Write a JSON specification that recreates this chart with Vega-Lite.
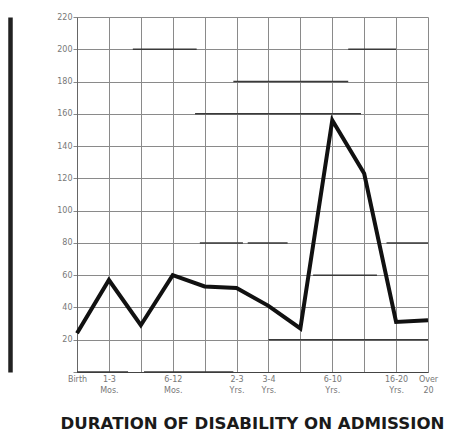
{
  "$schema": "https://vega.github.io/schema/vega-lite/v6.json",
  "width": 351,
  "height": 355,
  "autosize": {"type": "none"},
  "padding": {"left": 77, "top": 17, "right": 24, "bottom": 70},
  "background": "white",
  "title": {
    "text": "DURATION  OF  DISABILITY  ON  ADMISSION",
    "orient": "bottom",
    "anchor": "middle",
    "offset": 22,
    "font": "DejaVu Sans",
    "fontSize": 16.6,
    "fontWeight": "bold",
    "color": "#1a1a1a"
  },
  "config": {
    "view": {"stroke": null},
    "axis": {
      "labelFont": "DejaVu Sans",
      "labelColor": "#777",
      "labelFontSize": 8,
      "gridColor": "#8a8a8a",
      "gridWidth": 1,
      "gridOpacity": 1,
      "domainColor": "#555",
      "tickColor": "#888"
    }
  },
  "datasets": {
    "admissions": [
      {"i": 0, "duration": "Birth", "patients": 24},
      {"i": 1, "duration": "1-3 Mos.", "patients": 57},
      {"i": 2, "duration": "3-6 Mos.", "patients": 29},
      {"i": 3, "duration": "6-12 Mos.", "patients": 60},
      {"i": 4, "duration": "1-2 Yrs.", "patients": 53},
      {"i": 5, "duration": "2-3 Yrs.", "patients": 52},
      {"i": 6, "duration": "3-4 Yrs.", "patients": 41},
      {"i": 7, "duration": "4-6 Yrs.", "patients": 27},
      {"i": 8, "duration": "6-10 Yrs.", "patients": 156},
      {"i": 9, "duration": "10-16 Yrs.", "patients": 123},
      {"i": 10, "duration": "16-20 Yrs.", "patients": 31},
      {"i": 11, "duration": "Over 20", "patients": 32}
    ],
    "paperMarks": [
      {"y": 200, "a": 1.75, "b": 3.75},
      {"y": 200, "a": 8.5, "b": 10},
      {"y": 180, "a": 4.9, "b": 8.5},
      {"y": 160, "a": 3.7, "b": 8.9},
      {"y": 80, "a": 3.85, "b": 5.2},
      {"y": 80, "a": 5.35, "b": 6.6},
      {"y": 80, "a": 9.7, "b": 11},
      {"y": 60, "a": 7.4, "b": 9.4},
      {"y": 20, "a": 6, "b": 11},
      {"y": 0, "a": 0, "b": 1.6},
      {"y": 0, "a": 2.1, "b": 4.9}
    ]
  },
  "layer": [
    {
      "data": {"name": "paperMarks"},
      "mark": {"type": "rule", "color": "#3a3a3a", "strokeWidth": 1.5},
      "encoding": {
        "x": {
          "field": "a", "type": "quantitative",
          "scale": {"domain": [0, 11], "nice": false, "zero": false},
          "axis": {
            "values": [0, 1, 2, 3, 4, 5, 6, 7, 8, 9, 10, 11],
            "title": null,
            "ticks": false,
            "labelPadding": 3,
            "labelLineHeight": 11,
            "labelOverlap": false,
            "labelFlush": false,
            "labelBound": false,
            "labelExpr": "split(['Birth','1-3 Mos.','','6-12 Mos.','','2-3 Yrs.','3-4 Yrs.','','6-10 Yrs.','','16-20 Yrs.','Over 20'][datum.value], ' ')",
            "grid": true,
            "domainColor": "#444"
          }
        },
        "x2": {"field": "b"},
        "y": {
          "field": "y", "type": "quantitative",
          "scale": {"domain": [0, 220], "nice": false},
          "axis": {"orient": "left", "offset": 67, "labels": false, "ticks": false, "grid": false, "title": null, "domainWidth": 4.5, "domainColor": "#222"}
        }
      }
    },
    {
      "data": {"name": "admissions"},
      "mark": {"type": "line", "color": "#111", "strokeWidth": 4, "strokeJoin": "miter", "strokeMiterLimit": 6},
      "encoding": {
        "x": {
          "field": "i", "type": "quantitative",
          "scale": {"domain": [0, 11], "nice": false, "zero": false},
          "axis": {
            "values": [0, 1, 2, 3, 4, 5, 6, 7, 8, 9, 10, 11],
            "title": null,
            "ticks": false,
            "labelPadding": 3,
            "labelLineHeight": 11,
            "labelOverlap": false,
            "labelFlush": false,
            "labelBound": false,
            "labelExpr": "split(['Birth','1-3 Mos.','','6-12 Mos.','','2-3 Yrs.','3-4 Yrs.','','6-10 Yrs.','','16-20 Yrs.','Over 20'][datum.value], ' ')",
            "grid": true,
            "domainColor": "#444"
          }
        },
        "y": {
          "field": "patients", "type": "quantitative",
          "scale": {"domain": [0, 220], "nice": false},
          "axis": {
            "orient": "left",
            "values": [0, 20, 40, 60, 80, 100, 120, 140, 160, 180, 200, 220],
            "labelExpr": "datum.value == 0 ? '' : datum.label",
            "labelOverlap": false,
            "title": null,
            "tickSize": 4,
            "labelPadding": 1,
            "grid": true,
            "domainColor": "#666"
          }
        }
      }
    }
  ],
  "resolve": {"axis": {"y": "independent"}}
}
